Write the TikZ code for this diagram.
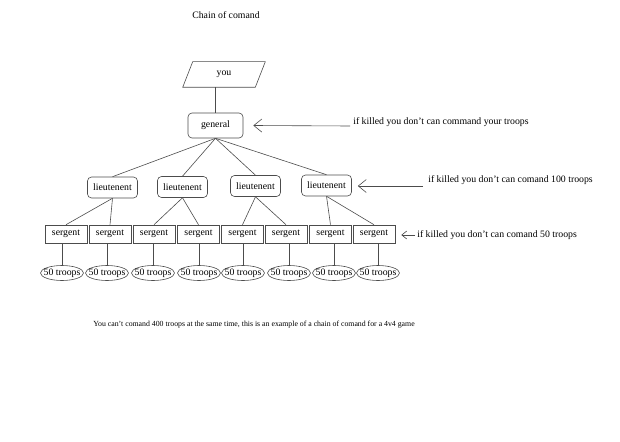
\documentclass[tikz,border=0pt]{standalone}
\usepackage{fontspec}
\setmainfont{Liberation Serif}
\usetikzlibrary{arrows.meta,shapes.geometric}
\newcommand\zw[1]{\makebox[0pt]{#1}}
\begin{document}
\begin{tikzpicture}[x=1pt,y=-1pt,
  font=\fontsize{9.8}{11}\selectfont,
  line width=0.6pt,
  lk/.style={draw=black!70},
  genbox/.style={draw=black!70, rounded corners=4pt, minimum width=55pt, minimum height=25pt, inner sep=1pt},
  ltbox/.style={draw=black!70, rounded corners=4pt, minimum width=50pt, minimum height=21pt, inner sep=1pt},
  sgbox/.style={draw=black!70, minimum width=42pt, minimum height=18pt, inner sep=1pt},
  trell/.style={draw=black!70, ellipse, minimum width=43pt, minimum height=15pt, inner sep=0pt},
  notetext/.style={anchor=west, inner sep=0pt},
  bigarrow/.style={draw=black!70, -{Straight Barb[length=8pt,width=13pt]}},
  smallarrow/.style={draw=black!70, -{Straight Barb[length=5pt,width=8pt]}}]
\useasboundingbox (0,0) rectangle (620,441);

\node (title) at (226,15) {Chain of comand};

% you
\node[minimum width=72pt, minimum height=25pt, inner sep=0pt] (you) at (224,74.5) {you};
\draw[lk] ([xshift=-5pt]you.south west) -- ([xshift=-5pt]you.south east)
  -- ([xshift=5pt]you.north east) -- ([xshift=5pt]you.north west) -- cycle;

% general
\node[genbox] (gen) at (215.5,125.5) {general};
\draw[lk] (gen.north) -- (gen.north |- you.south);

% lieutenants
\node[ltbox] (l1) at (112.5,187.5) {lieutenent};
\node[ltbox] (l2) at (182.5,187) {lieutenent};
\node[ltbox] (l3) at (255.5,186) {lieutenent};
\node[ltbox] (l4) at (326.5,185.5) {lieutenent};
\foreach \l in {l1,l2,l3,l4} \draw[lk] (gen.south) -- (\l.north);

% sergeants
\foreach \n/\x in {1/66,2/110,3/154,4/198.5,5/242.5,6/286,7/330.5,8/374}
  \node[sgbox] (s\n) at (\x,234) {sergent};
\draw[lk] (l1.south) -- (s1.north);
\draw[lk] (l1.south) -- (s2.north);
\draw[lk] (l2.south) -- (s3.north);
\draw[lk] (l2.south) -- (s4.north);
\draw[lk] (l3.south) -- (s5.north);
\draw[lk] (l3.south) -- (s6.north);
\draw[lk] (l4.south) -- (s7.north);
\draw[lk] (l4.south) -- (s8.north);

% troops
\foreach \n/\x in {1/62,2/107,3/153,4/199,5/243,6/289,7/334,8/378} {
  \node[trell] (t\n) at (\x,273) {\zw{50 troops}};
  \draw[lk] (t\n.north) -- (t\n.north |- s\n.south);
}

% annotations
\coordinate (a1) at (350,126);
\draw[bigarrow] (a1) -- ([xshift=10pt]gen.east);
\node[notetext] (n1) at (353,122) {if killed you don't can command your troops};

\coordinate (a2) at (423,186);
\draw[bigarrow] (a2) -- ([xshift=6pt]l4.east |- a2);
\node[notetext] (n2) at (428,180) {if killed you don't can comand 100 troops};

\coordinate (a3) at (415,235);
\draw[smallarrow] (a3) -- ([xshift=6pt]s8.east |- a3);
\node[notetext] (n3) at (417,235) {if killed you don't can comand 50 troops};

\node[notetext, font=\fontsize{7.8}{9}\selectfont] (bottom) at (93,325)
  {You can't comand 400 troops at the same time, this is an example of a chain of comand for a 4v4 game};
\end{tikzpicture}
\end{document}
